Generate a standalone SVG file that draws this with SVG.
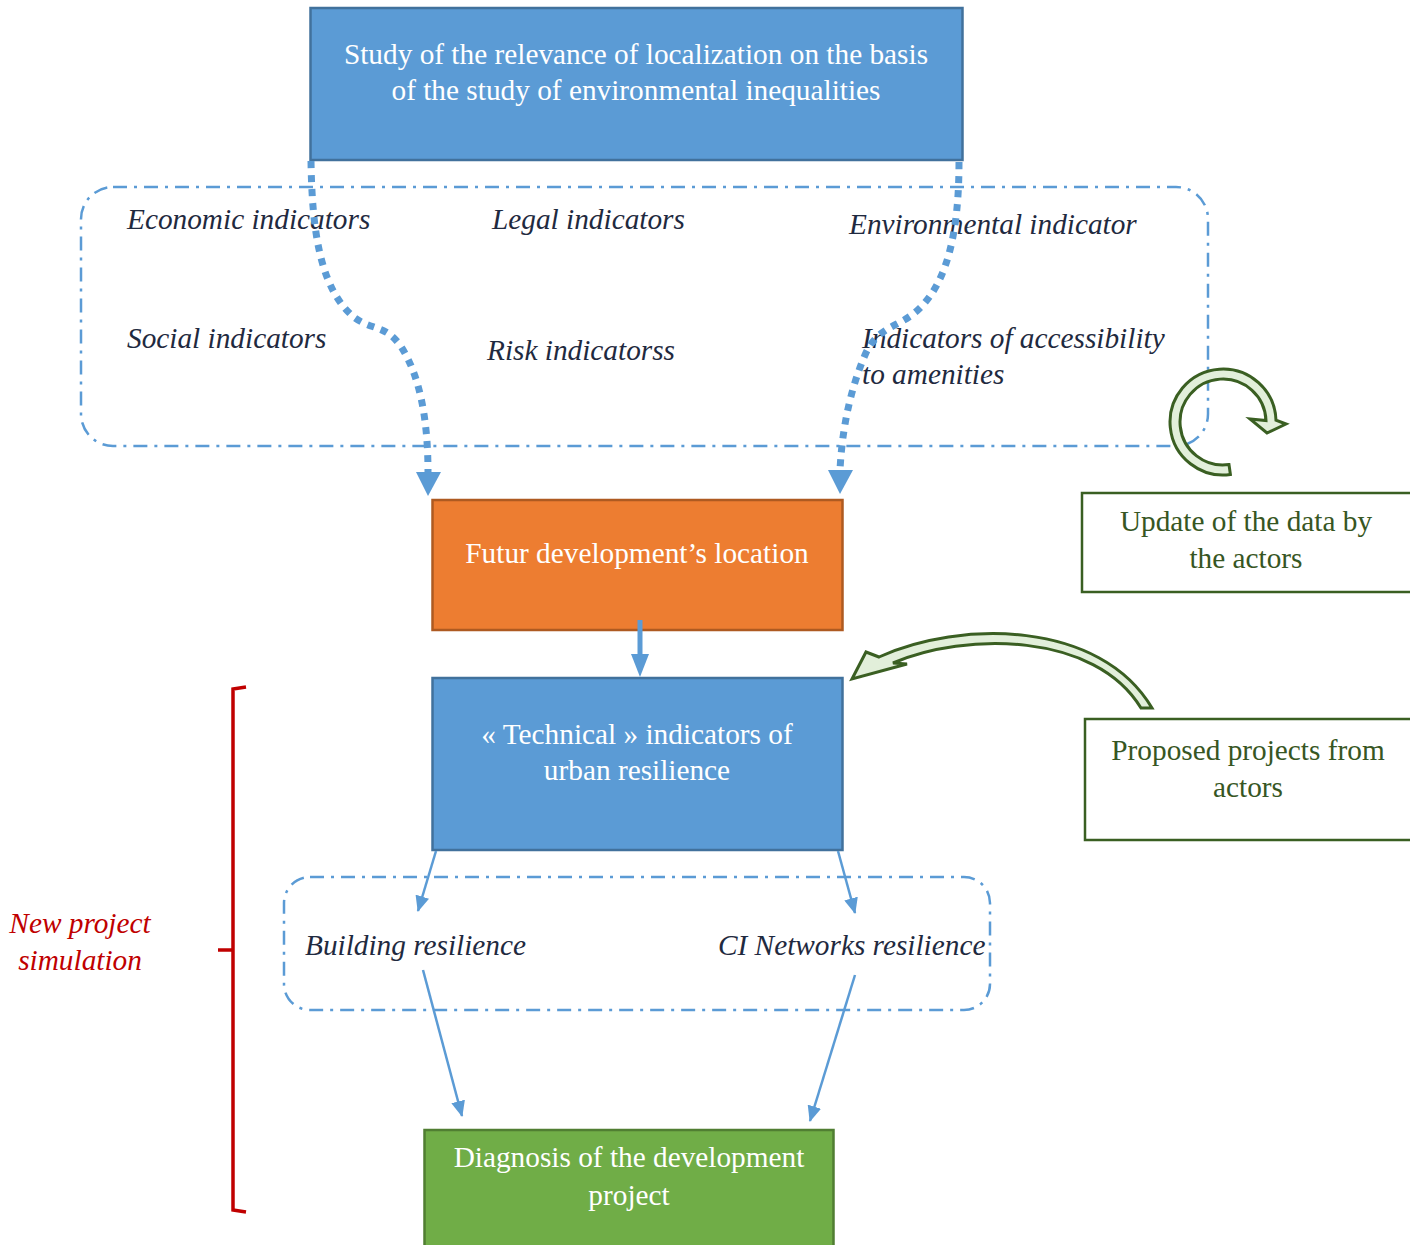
<svg xmlns="http://www.w3.org/2000/svg" width="1410" height="1245" viewBox="0 0 1410 1245">
<defs>
<style>
.t{font-family:'Liberation Serif','Times New Roman',serif;font-size:29.3px}
.w{fill:#ffffff}
.i{font-style:italic;fill:#1f2a40}
.g{fill:#375623}
.r{font-style:italic;fill:#c00000}
.dd{fill:none;stroke:#5b9bd5;stroke-width:2.5;stroke-dasharray:14 7 3 7}
.dot{fill:none;stroke:#5b9bd5;stroke-width:7;stroke-dasharray:7 7}
.thin{fill:none;stroke:#5b9bd5;stroke-width:2.5}
.gb{fill:#ffffff;stroke:#3a5f22;stroke-width:2.5}
.ga{fill:#e2efda;stroke:#3a5f22;stroke-width:3;stroke-linejoin:miter}
</style>
<marker id="ah" viewBox="0 0 16 14" refX="15" refY="7" markerWidth="16" markerHeight="14" markerUnits="userSpaceOnUse" orient="auto">
<path d="M0,0 L16,7 L0,14 Z" fill="#5b9bd5"/>
</marker>
</defs>
<rect width="1410" height="1245" fill="#ffffff"/>

<g id="indicators-group">
<rect class="dd" x="81" y="187" width="1127" height="259" rx="32"/>
<text class="t i" x="127" y="229">Economic indicators</text>
<text class="t i" x="492" y="229">Legal indicators</text>
<text class="t i" x="849" y="234">Environmental indicator</text>
<text class="t i" x="127" y="348">Social indicators</text>
<text class="t i" x="487" y="360">Risk indicatorss</text>
<text class="t i" x="862" y="348">Indicators of accessibility</text>
<text class="t i" x="862" y="384">to amenities</text>
</g>

<g id="study">
<rect x="310.5" y="8" width="652" height="152" fill="#5b9bd5" stroke="#41719c" stroke-width="2.5"/>
<text class="t w" x="636" y="64" text-anchor="middle">Study of the relevance of localization on the basis</text>
<text class="t w" x="636" y="100" text-anchor="middle">of the study of environmental inequalities</text>
</g>

<g id="location">
<rect x="432.5" y="500" width="410" height="130" fill="#ed7d31" stroke="#ae5a21" stroke-width="2.5"/>
<text class="t w" x="637" y="563" text-anchor="middle">Futur development’s location</text>
</g>

<g id="technical">
<rect x="432.5" y="678" width="410" height="172" fill="#5b9bd5" stroke="#41719c" stroke-width="2.5"/>
<text class="t w" x="637" y="744" text-anchor="middle">« Technical » indicators of</text>
<text class="t w" x="637" y="780" text-anchor="middle">urban resilience</text>
</g>

<g id="resilience-group">
<rect class="dd" x="284" y="877" width="706" height="133" rx="26"/>
<text class="t i" x="305" y="955">Building resilience</text>
<text class="t i" x="718" y="955">CI Networks resilience</text>
</g>

<g id="diagnosis">
<rect x="424.5" y="1130" width="409" height="120" fill="#70ad47" stroke="#507e32" stroke-width="2.5"/>
<text class="t w" x="629" y="1167" text-anchor="middle">Diagnosis of the development</text>
<text class="t w" x="629" y="1205" text-anchor="middle">project</text>
</g>

<g id="update">
<rect class="gb" x="1082" y="493" width="330" height="99"/>
<text class="t g" x="1246" y="531" text-anchor="middle">Update of the data by</text>
<text class="t g" x="1246" y="568" text-anchor="middle">the actors</text>
</g>

<g id="proposed">
<rect class="gb" x="1085" y="719" width="330" height="121"/>
<text class="t g" x="1248" y="760" text-anchor="middle">Proposed projects from</text>
<text class="t g" x="1248" y="797" text-anchor="middle">actors</text>
</g>

<g id="simulation">
<path d="M246,687 L233,689 L233,1210 L246,1212 M218,950 L233,950" fill="none" stroke="#c00000" stroke-width="3.5"/>
<text class="t r" x="80" y="933" text-anchor="middle">New project</text>
<text class="t r" x="80" y="970" text-anchor="middle">simulation</text>
</g>

<g id="connectors">
<path class="dot" d="M311,161 C312,230 320,290 355,318 C372,330 385,325 400,345 C420,375 428,420 428,472"/>
<path d="M416,472 L441,472 L428,496 Z" fill="#5b9bd5"/>
<path class="dot" d="M959,162 C959,230 948,280 920,308 C900,328 878,325 865,355 C850,390 842,430 840,470"/>
<path d="M828,470 L853,470 L840,494 Z" fill="#5b9bd5"/>
<path d="M640,620 L640,655" fill="none" stroke="#5b9bd5" stroke-width="5"/>
<path d="M631,654 L649,654 L640,677 Z" fill="#5b9bd5"/>
<path class="thin" d="M436,851 L418,911" marker-end="url(#ah)"/>
<path class="thin" d="M838,851 L855,913" marker-end="url(#ah)"/>
<path class="thin" d="M423,970 L462,1116" marker-end="url(#ah)"/>
<path class="thin" d="M855,975 L810,1121" marker-end="url(#ah)"/>
<path class="ga" d="M1230.4,474.5 A53,53 0 1 1 1276,420.2 L1286,424 L1267,433 L1250,419 L1266,420.5 A43,43 0 1 0 1229,464.6 Z"/>
<path class="ga" d="M852,679 L866,652 L879,657 C960,620 1100,620 1152,708 L1141,708 C1095,632 965,632 893,663 L907,664 Z"/>
</g>
</svg>
